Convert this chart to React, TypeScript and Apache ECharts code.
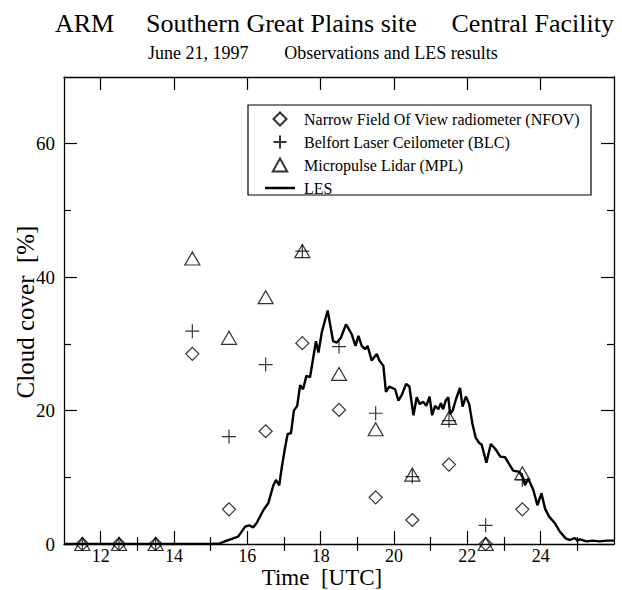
import React, { useEffect, useRef } from "react";
import * as echarts from "echarts";

const FONT = '"Liberation Serif", "Times New Roman", serif';

const obsTime = [11.5, 12.5, 13.5, 14.5, 15.5, 16.5, 17.5, 18.5, 19.5, 20.5, 21.5, 22.5, 23.5];
const nfovValues = [0, 0, 0, 28.5, 5.2, 16.9, 30.1, 20.1, 7.0, 3.6, 11.9, 0, 5.2];
const blcValues = [0, 0, 0, 31.9, 16.1, 26.9, 43.9, 29.6, 19.6, 10.1, 18.5, 2.8, 9.6];
const mplValues = [0, 0, 0, 42.8, 30.9, 37.0, 43.9, 25.5, 17.2, 10.4, 18.9, 0, 10.6];

const lesTime = [
  11.0, 15.0, 15.25, 15.44, 15.75, 15.94, 16.05, 16.16, 16.25, 16.44, 16.57, 16.71, 16.78, 16.87,
  16.94, 17.03, 17.1, 17.19, 17.27, 17.36, 17.44, 17.52, 17.61, 17.71, 17.8, 17.87, 17.94, 18.03,
  18.19, 18.34, 18.44, 18.55, 18.69, 18.75, 18.85, 18.95, 19.03, 19.12, 19.21, 19.28, 19.39, 19.53,
  19.6, 19.71, 19.78, 19.87, 20.03, 20.12, 20.21, 20.33, 20.42, 20.53, 20.62, 20.7, 20.8, 20.88,
  20.97, 21.04, 21.12, 21.21, 21.28, 21.34, 21.41, 21.48, 21.53, 21.6, 21.69, 21.8, 21.87, 21.96,
  22.05, 22.14, 22.23, 22.33, 22.39, 22.52, 22.64, 22.77, 22.9, 23.03, 23.15, 23.25, 23.42, 23.53,
  23.57, 23.66, 23.8, 23.91, 24.02, 24.12, 24.23, 24.39, 24.53, 24.69, 24.8, 24.93, 25.0, 25.07,
  25.25, 25.43, 25.6, 25.8, 26.0,
];
const lesValues = [
  0, 0, 0.1, 0.5, 1.1, 2.6, 2.8, 2.5, 3.1, 5.1, 6.1, 8.8, 9.6, 8.8,
  11.5, 14.5, 16.5, 16.6, 20.0, 20.7, 23.8, 23.2, 25.2, 25.0, 28.0, 30.4, 28.7, 31.7,
  35.0, 30.4, 30.2, 30.9, 32.9, 32.4, 31.4, 29.7, 31.2, 29.7, 29.2, 29.7, 27.5, 28.5,
  27.5, 26.7, 22.8, 23.6, 23.2, 21.5, 22.3, 24.0, 23.6, 19.3, 22.0, 21.0, 21.3, 20.7,
  22.1, 19.3, 20.7, 20.2, 21.1, 20.2, 21.5, 22.0, 19.5, 20.0, 21.7, 23.4, 20.6, 22.1,
  21.0, 18.0, 15.9, 15.1, 14.9, 12.2, 15.0, 14.2, 13.1, 13.0, 11.9, 11.0, 10.8, 9.8,
  8.8, 9.8, 8.1, 5.8, 7.6, 5.3, 4.1, 3.1, 1.8, 0.8, 0.6, 0.9, 0.5, 0.7,
  0.4, 0.5, 0.4, 0.5, 0.5,
];

const xMajorTicks = [12, 14, 16, 18, 20, 22, 24];
const xMinorTicks = [13, 15, 17, 19, 21, 23, 25];
const yMajorTicks = [0, 20, 40, 60];
const yMinorTicks = [10, 30, 50];

const seriesNames = [
  "Narrow Field Of View radiometer (NFOV)",
  "Belfort Laser Ceilometer (BLC)",
  "Micropulse Lidar (MPL)",
  "LES",
];

const DIAMOND = "path://M5,0L10,5L5,10L0,5Z";
const PLUS = "path://M5,0L5,10M0,5L10,5";
const TRIANGLE = "path://M5,0L10,9L0,9Z";
const LINE_ICON = "path://M0,0L24,0L24,2L0,2Z";

export default function App() {
  const ref = useRef<HTMLDivElement>(null);

  useEffect(() => {
    document.body.style.margin = "0";
    if (!ref.current) return;
    const chart = echarts.init(ref.current, undefined, { renderer: "svg" });

    const axisLineStyle = { color: "#000", width: 1.3 };
    const tickLine = { color: "#000", width: 1.2 };
    const xBase = { type: "value", min: 11, max: 26, gridIndex: 0, splitLine: { show: false } };
    const yBase = { type: "value", min: 0, max: 70, gridIndex: 0, splitLine: { show: false } };

    const pair = (xs: number[], ys: number[]) => xs.map((x, i) => [x, ys[i]]);
    const markerStyle = { color: "rgba(0,0,0,0)", borderColor: "#000", borderWidth: 1.2 };

    chart.setOption({
      animation: false,
      backgroundColor: "#fff",
      grid: { left: 64, right: 8, top: 77, bottom: 46, containLabel: false },
      xAxis: [
        {
          ...xBase,
          position: "bottom",
          axisLine: { show: true, onZero: false, lineStyle: axisLineStyle },
          axisTick: { show: true, inside: true, length: 13, customValues: xMajorTicks, lineStyle: tickLine },
          axisLabel: {
            show: true,
            customValues: xMajorTicks,
            fontFamily: FONT,
            fontSize: 18,
            color: "#000",
            margin: 3,
          },
        },
        {
          ...xBase,
          position: "bottom",
          axisLine: { show: false },
          axisTick: { show: true, inside: true, length: 7, customValues: xMinorTicks, lineStyle: tickLine },
          axisLabel: { show: false },
        },
        {
          ...xBase,
          position: "top",
          axisLine: { show: true, onZero: false, lineStyle: axisLineStyle },
          axisTick: { show: true, inside: true, length: 13, customValues: xMajorTicks, lineStyle: tickLine },
          axisLabel: { show: false },
        },
        {
          ...xBase,
          position: "top",
          axisLine: { show: false },
          axisTick: { show: true, inside: true, length: 7, customValues: xMinorTicks, lineStyle: tickLine },
          axisLabel: { show: false },
        },
      ],
      yAxis: [
        {
          ...yBase,
          position: "left",
          axisLine: { show: true, onZero: false, lineStyle: axisLineStyle },
          axisTick: { show: true, inside: true, length: 13, customValues: yMajorTicks, lineStyle: tickLine },
          axisLabel: {
            show: true,
            customValues: yMajorTicks,
            fontFamily: FONT,
            fontSize: 19,
            color: "#000",
            margin: 9,
          },
        },
        {
          ...yBase,
          position: "left",
          axisLine: { show: false },
          axisTick: { show: true, inside: true, length: 7, customValues: yMinorTicks, lineStyle: tickLine },
          axisLabel: { show: false },
        },
        {
          ...yBase,
          position: "right",
          axisLine: { show: true, onZero: false, lineStyle: axisLineStyle },
          axisTick: { show: true, inside: true, length: 13, customValues: yMajorTicks, lineStyle: tickLine },
          axisLabel: { show: false },
        },
        {
          ...yBase,
          position: "right",
          axisLine: { show: false },
          axisTick: { show: true, inside: true, length: 7, customValues: yMinorTicks, lineStyle: tickLine },
          axisLabel: { show: false },
        },
      ],
      legend: {
        orient: "vertical",
        left: 260,
        top: 106,
        itemWidth: 30,
        itemHeight: 13,
        itemGap: 7,
        selectedMode: false,
        textStyle: { fontFamily: FONT, fontSize: 16, color: "#000", padding: [0, 0, 0, 4] },
        data: [
          { name: seriesNames[0], icon: DIAMOND },
          { name: seriesNames[1], icon: PLUS },
          { name: seriesNames[2], icon: TRIANGLE },
          { name: seriesNames[3], icon: LINE_ICON, itemStyle: { color: "#000" } },
        ],
      },
      series: [
        {
          name: seriesNames[0],
          type: "scatter",
          xAxisIndex: 0,
          yAxisIndex: 0,
          symbol: "diamond",
          symbolSize: [13, 13],
          itemStyle: markerStyle,
          data: pair(obsTime, nfovValues),
          z: 3,
        },
        {
          name: seriesNames[1],
          type: "scatter",
          xAxisIndex: 0,
          yAxisIndex: 0,
          symbol: PLUS,
          symbolSize: [14, 14],
          itemStyle: markerStyle,
          data: pair(obsTime, blcValues),
          z: 3,
        },
        {
          name: seriesNames[2],
          type: "scatter",
          xAxisIndex: 0,
          yAxisIndex: 0,
          symbol: TRIANGLE,
          symbolSize: [15, 13],
          itemStyle: markerStyle,
          data: pair(obsTime, mplValues),
          z: 3,
        },
        {
          name: seriesNames[3],
          type: "line",
          xAxisIndex: 0,
          yAxisIndex: 0,
          symbol: "none",
          showSymbol: false,
          lineStyle: { color: "#000", width: 2.4 },
          itemStyle: { color: "#000" },
          data: pair(lesTime, lesValues),
          z: 2,
        },
      ],
      graphic: [
        {
          type: "rect",
          shape: { x: 248, y: 105, width: 343, height: 90 },
          style: { fill: "none", stroke: "#000", lineWidth: 1.2 },
          z: 1,
        },
        {
          type: "text",
          x: 55,
          y: 23,
          style: { text: "ARM", fontFamily: FONT, fontSize: 26, fill: "#000", align: "left", verticalAlign: "middle" },
        },
        {
          type: "text",
          x: 146,
          y: 23,
          style: {
            text: "Southern Great Plains site",
            fontFamily: FONT,
            fontSize: 26,
            fill: "#000",
            align: "left",
            verticalAlign: "middle",
          },
        },
        {
          type: "text",
          x: 614,
          y: 23,
          style: {
            text: "Central Facility",
            fontFamily: FONT,
            fontSize: 26,
            fill: "#000",
            align: "right",
            verticalAlign: "middle",
          },
        },
        {
          type: "text",
          x: 148,
          y: 53,
          style: { text: "June 21, 1997", fontFamily: FONT, fontSize: 18, fill: "#000", align: "left", verticalAlign: "middle" },
        },
        {
          type: "text",
          x: 391,
          y: 53,
          style: {
            text: "Observations and LES results",
            fontFamily: FONT,
            fontSize: 18,
            fill: "#000",
            align: "center",
            verticalAlign: "middle",
          },
        },
        {
          type: "text",
          x: 322,
          y: 577,
          style: { text: "Time  [UTC]", fontFamily: FONT, fontSize: 23, fill: "#000", align: "center", verticalAlign: "middle" },
        },
        {
          type: "text",
          x: 25,
          y: 312,
          rotation: Math.PI / 2,
          style: {
            text: "Cloud cover  [%]",
            fontFamily: FONT,
            fontSize: 25,
            fill: "#000",
            align: "center",
            verticalAlign: "middle",
          },
        },
      ],
    });

    return () => {
      chart.dispose();
    };
  }, []);

  return <div ref={ref} style={{ width: 622, height: 590 }} />;
}
